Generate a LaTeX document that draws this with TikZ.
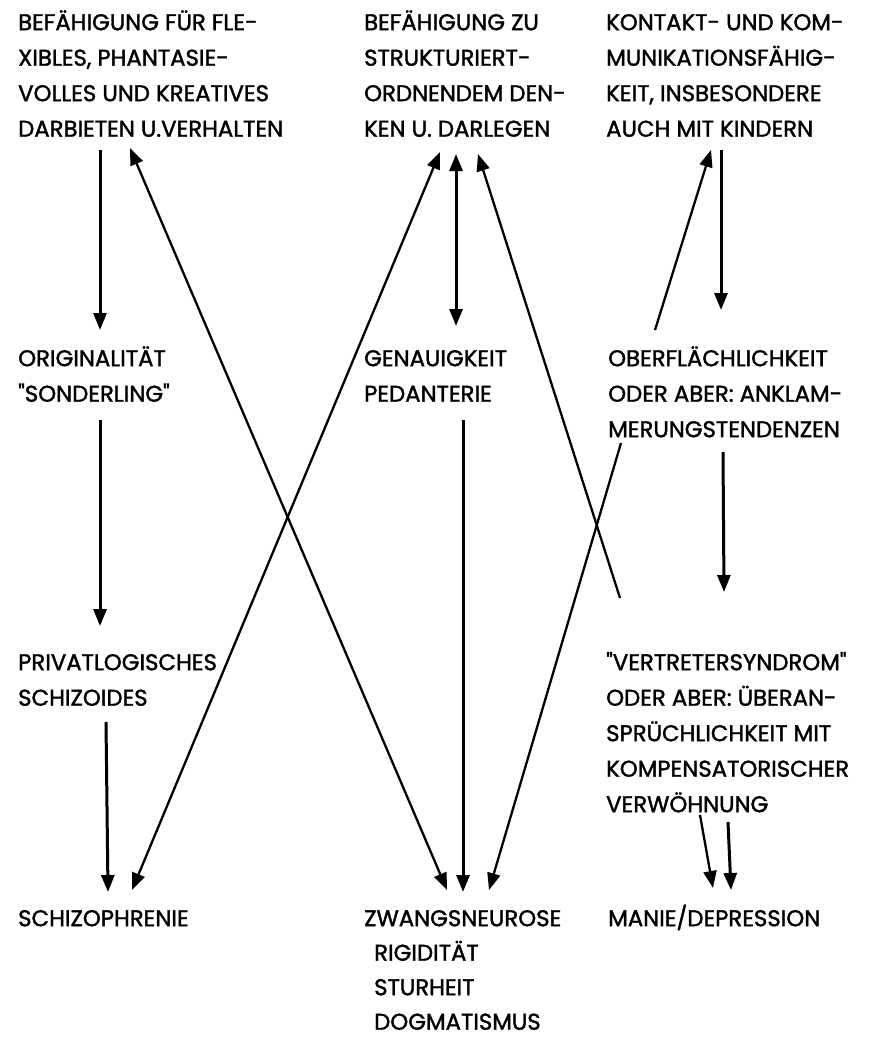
\documentclass[tikz,border=0pt]{standalone}
\usepackage{fontspec}
\setmainfont{Poppins}[FakeBold=1.6,Ligatures=TeXOff]
\usetikzlibrary{arrows.meta}
\tikzset{
  lbl/.style={anchor=north west,inner sep=0pt,align=left,font=\fontsize{22.8}{35.5}\selectfont},
  arr/.style={line width=3pt,-{Triangle[length=17pt,width=13pt]}},
  darr/.style={line width=2.3pt,{Triangle[length=17pt,width=13pt]}-{Triangle[length=17pt,width=13pt]}},
  sarr/.style={line width=2.3pt,-{Triangle[length=17pt,width=13pt]}}
}
\newcommand{\lb}[4]{\node[lbl] (#1) at (#2,#3-24.85) {\strut #4};}
\begin{document}
\begin{tikzpicture}[x=1pt,y=-1pt]
\useasboundingbox (0,0) rectangle (868,1038);
% texts
\lb{t1}{18}{30}{BEFÄHIGUNG FÜR FLE-\\XIBLES, PHANTASIE-\\VOLLES UND KREATIVES\\DARBIETEN U.VERHALTEN}
\lb{t2}{364}{30}{BEFÄHIGUNG ZU\\STRUKTURIERT-\\ORDNENDEM DEN-\\KEN U. DARLEGEN}
\lb{t3}{606}{30}{KONTAKT- UND KOM-\\MUNIKATIONSFÄHIG-\\KEIT, INSBESONDERE\\AUCH MIT KINDERN}
\lb{m1}{18}{366}{ORIGINALITÄT\\"SONDERLING"}
\lb{m2}{364}{366}{GENAUIGKEIT\\PEDANTERIE}
\lb{m3}{608}{366}{OBERFLÄCHLICHKEIT\\ODER ABER: ANKLAM-\\MERUNGSTENDENZEN}
\lb{p1}{18}{670}{PRIVATLOGISCHES\\SCHIZOIDES}
\lb{p3}{606}{670}{"VERTRETERSYNDROM"\\ODER ABER: ÜBERAN-\\SPRÜCHLICHKEIT MIT\\KOMPENSATORISCHER\\VERWÖHNUNG}
\lb{b1}{18}{926}{SCHIZOPHRENIE}
\node[lbl,font=\fontsize{22.8}{34.5}\selectfont] (b2) at (364,926-24.15) {\strut ZWANGSNEUROSE\\\hspace*{10pt}RIGIDITÄT\\\hspace*{10pt}STURHEIT\\\hspace*{10pt}DOGMATISMUS};
\lb{b3}{608}{926}{MANIE/DEPRESSION}
% coordinates
\coordinate (a1s) at (100,150); \coordinate (a1e) at (100,330);
\coordinate (a2s) at (100,420); \coordinate (a2e) at (100,626);
\coordinate (a3s) at (106,722); \coordinate (a3e) at (108,892);
\coordinate (a4s) at (130,148); \coordinate (a4e) at (447,890);
\coordinate (a5s) at (132,890); \coordinate (a5e) at (440,152);
\coordinate (a6s) at (456,154); \coordinate (a6e) at (456,326);
\coordinate (a7s) at (463,420); \coordinate (a7e) at (463,892);
\coordinate (a8s) at (620,598); \coordinate (a8e) at (478,154);
\coordinate (a9s) at (655,330); \coordinate (a9e) at (711,150);
\coordinate (a10s) at (721,150); \coordinate (a10e) at (721,310);
\coordinate (a11s) at (723,452); \coordinate (a11e) at (724,592);
\coordinate (a12s) at (621,443); \coordinate (a12e) at (489,890);
\coordinate (a13s) at (700,815); \coordinate (a13e) at (713,888);
\coordinate (a14s) at (728,822); \coordinate (a14e) at (731,890);
% arrows
\draw[arr] (a1s) -- (a1e);
\draw[arr] (a2s) -- (a2e);
\draw[arr] (a3s) -- (a3e);
\draw[darr] (a4s) -- (a4e);
\draw[darr] (a5s) -- (a5e);
\draw[darr,line width=3pt] (a6s) -- (a6e);
\draw[arr] (a7s) -- (a7e);
\draw[sarr] (a8s) -- (a8e);
\draw[sarr] (a9s) -- (a9e);
\draw[arr] (a10s) -- (a10e);
\draw[arr] (a11s) -- (a11e);
\draw[sarr] (a12s) -- (a12e);
\draw[sarr] (a13s) -- (a13e);
\draw[arr] (a14s) -- (a14e);
\end{tikzpicture}
\end{document}
